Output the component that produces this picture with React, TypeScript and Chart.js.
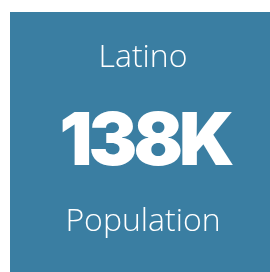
import React, { useEffect, useRef } from "react";
import { Chart, registerables } from "chart.js";

Chart.register(...registerables);

const categories = ["Latino"];
const values = [138];
const valueLabels = ["138K"];
const captions = ["Population"];

const BG = "#3a7ea2";

const kpiPlugin = {
  id: "kpiCard",
  beforeDraw(chart: any) {
    const { ctx, width, height } = chart;
    ctx.save();
    ctx.fillStyle = BG;
    ctx.fillRect(0, 0, width, height);
    ctx.restore();
  },
  afterDraw(chart: any) {
    const { ctx } = chart;
    const cx = 133;
    ctx.save();
    ctx.fillStyle = "#ffffff";
    ctx.textAlign = "center";
    ctx.textBaseline = "alphabetic";
    ctx.font = "300 32px 'Open Sans'";
    ctx.fillText(String(chart.data.labels[0]), cx, 55);
    ctx.font = "900 73px Inter";
    (ctx as any).letterSpacing = "-4px";
    ctx.fillText(valueLabels[0], cx + 2, 153);
    (ctx as any).letterSpacing = "0px";
    ctx.font = "300 32px 'Open Sans'";
    ctx.fillText(captions[0], cx, 219);
    ctx.restore();
  },
};

export default function App() {
  const ref = useRef<HTMLCanvasElement>(null);
  useEffect(() => {
    if (!ref.current) return;
    const chart = new Chart(ref.current, {
      type: "bar",
      data: {
        labels: categories,
        datasets: [{ data: values, backgroundColor: "rgba(0,0,0,0)", borderWidth: 0 }],
      },
      options: {
        animation: false,
        responsive: false,
        devicePixelRatio: 1,
        events: [],
        plugins: { legend: { display: false }, tooltip: { enabled: false }, title: { display: false } },
        scales: { x: { display: false }, y: { display: false } },
      },
      plugins: [kpiPlugin],
    });
    return () => chart.destroy();
  }, []);
  return (
    <div style={{ position: "absolute", left: 10, top: 12 }}>
      <canvas ref={ref} width={266} height={262} style={{ display: "block" }} />
    </div>
  );
}
